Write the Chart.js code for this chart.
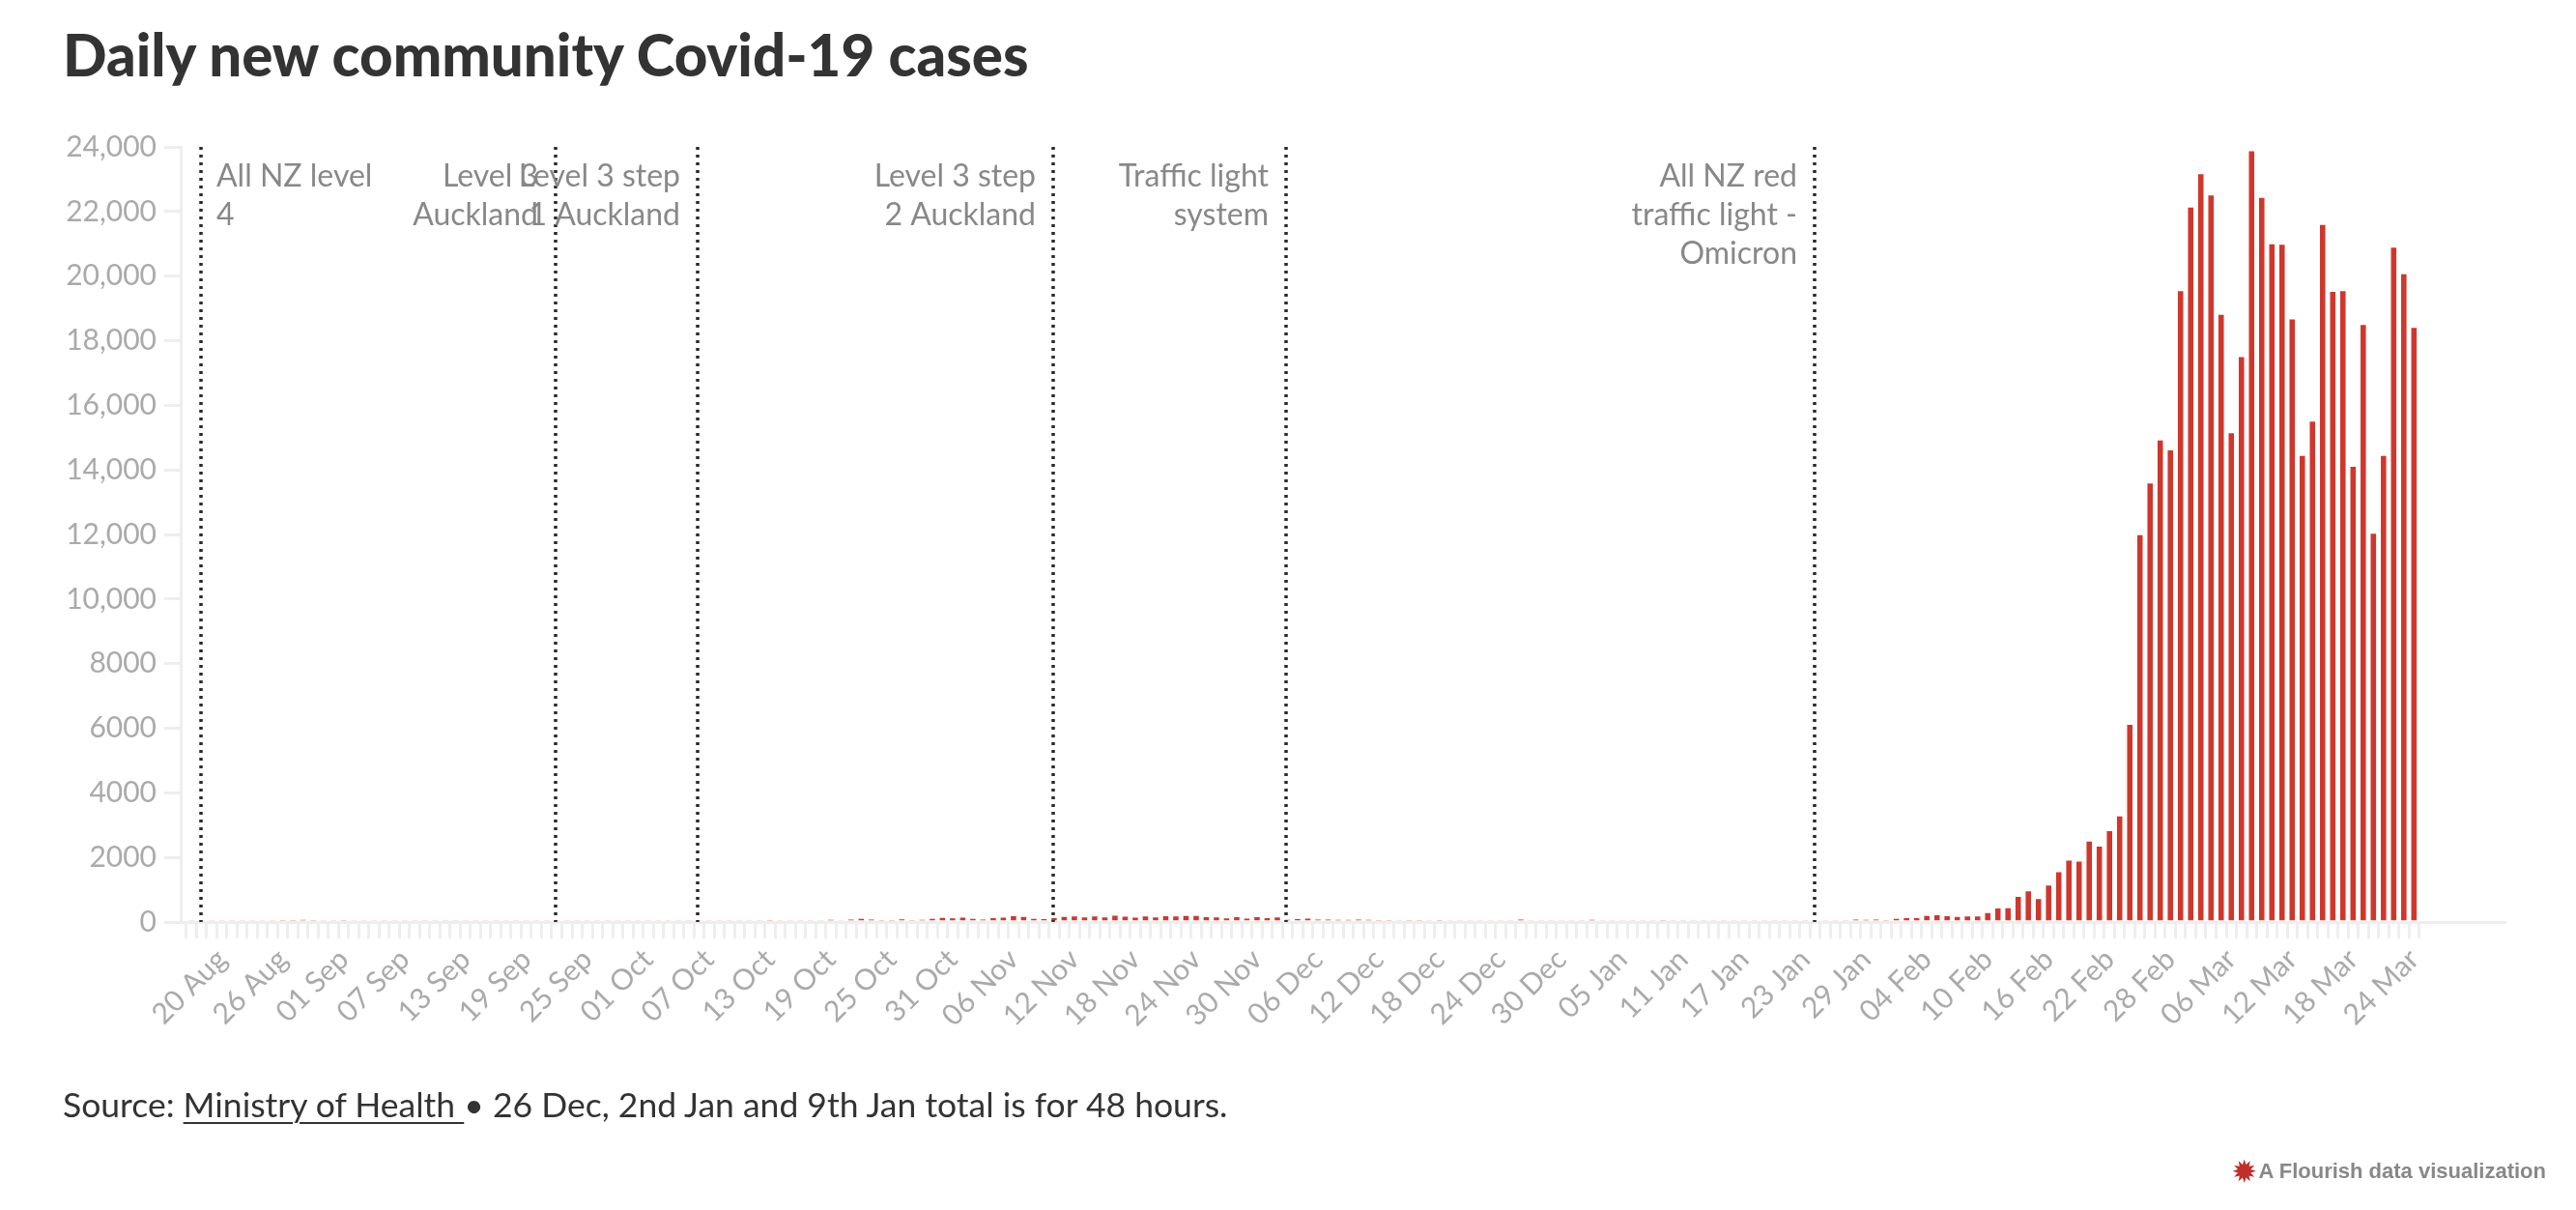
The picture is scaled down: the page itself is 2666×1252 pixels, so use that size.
<!doctype html>
<html>
<head>
  <meta charset="utf-8" />
  <title>Daily new community Covid-19 cases</title>
  <style>
    body { margin: 0; background: #fff; font-family: Lato, 'Noto Sans', sans-serif; }
    #page { position: relative; width: 2666px; height: 1252px; overflow: hidden; }
    canvas { position: absolute; left: 0; top: 0; }
    h1 { position: absolute; left: 65px; top: 20px; margin: 0; font-size: 60px; line-height: normal; font-weight: 900; color: #333; white-space: nowrap; }
    .source { position: absolute; left: 65px; top: 1121px; font-size: 35.5px; line-height: normal; color: #333; white-space: nowrap; }
    .source u { text-decoration-thickness: 2px; text-underline-offset: 5px; }
    .credit { position: absolute; right: 31px; top: 1196px; font-family: 'Liberation Sans', Arial, sans-serif; font-weight: 700; font-size: 22px; color: #888; white-space: nowrap; }
    .credit span { color: #c0302a; font-size: 28px; vertical-align: -3px; margin-right: 4px; }
  </style>
  <script src="https://cdn.jsdelivr.net/npm/chart.js"></script>
</head>
<body>
  <div id="page">
    <canvas id="chart" width="2666" height="1252"></canvas>
    <h1>Daily new community Covid-19 cases</h1>
    <div class="source">Source: <u>Ministry of Health </u> • 26 Dec, 2nd Jan and 9th Jan total is for 48 hours.</div>
    <div class="credit"><span>✹</span>A Flourish data visualization</div>
  </div>
  <script>
    // daily community cases by report date, 17 Aug 2021 - 24 Mar 2022
    const aug = [1, 6, 11, 11, 20, 21, 35, 41, 62, 68, 70, 83, 82, 53, 49];
    const sep = [75, 28, 20, 21, 20, 20, 21, 15, 13, 11, 20, 23, 33, 15, 13, 11, 11, 20, 24, 22, 14, 15, 17, 9, 13, 18, 12, 8, 45, 19];
    const oct = [19, 27, 33, 29, 27, 39, 29, 44, 34, 60, 35, 55, 71, 55, 65, 43, 51, 60, 94, 65, 102, 129, 104, 80, 79, 109, 74, 89, 125, 160, 143];
    const nov = [162, 126, 100, 147, 163, 206, 190, 125, 117, 147, 185, 200, 175, 201, 173, 222, 194, 167, 200, 172, 207, 205, 215, 215, 178, 173, 143, 181, 135, 182];
    const dec = [149, 172, 92, 116, 135, 98, 101, 94, 86, 99, 88, 74, 81, 56, 80, 70, 59, 81, 47, 56, 45, 67, 66, 44, 0, 100, 15, 30, 30, 40, 30];
    const jan = [0, 90, 25, 20, 22, 18, 30, 0, 70, 15, 14, 23, 17, 14, 22, 25, 13, 22, 14, 35, 20, 40, 20, 25, 25, 25, 40, 100, 90, 100, 80];
    const feb = [130, 150, 150, 215, 243, 208, 188, 202, 204, 306, 446, 454, 810, 981, 744, 1160, 1573, 1929, 1901, 2522, 2365, 2846, 3297, 6137, 12011, 13606, 14941, 14633];
    const mar = [19566, 22152, 23183, 22527, 18833, 15161, 17522, 23894, 22454, 21015, 20998, 18690, 14463, 15525, 21616, 19542, 19566, 14128, 18514, 12052, 14463, 20907, 20087, 18423];
    const cases = [...aug, ...sep, ...oct, ...nov, ...dec, ...jan, ...feb, ...mar];

    const monthNames = ['Jan', 'Feb', 'Mar', 'Apr', 'May', 'Jun', 'Jul', 'Aug', 'Sep', 'Oct', 'Nov', 'Dec'];
    const dates = cases.map((_, i) => {
      const d = new Date(2021, 7, 17 + i);
      return String(d.getDate()).padStart(2, '0') + ' ' + monthNames[d.getMonth()];
    });

    // alert level changes (drawn on the first day of the new setting)
    const markerDates = ['18 Aug', '22 Sep', '06 Oct', '10 Nov', '03 Dec', '24 Jan'];
    const markerText = [
      ['All NZ level', '4'],
      ['Level 3', 'Auckland'],
      ['Level 3 step', '1 Auckland'],
      ['Level 3 step', '2 Auckland'],
      ['Traffic light', 'system'],
      ['All NZ red', 'traffic light -', 'Omicron'],
    ];
    const markerSide = ['right', 'left', 'left', 'left', 'left', 'left'];

    const yTicks = [0, 2000, 4000, 6000, 8000, 10000, 12000, 14000, 16000, 18000, 20000, 22000, 24000];

    const markers = {
      id: 'markers',
      afterDatasetsDraw(chart) {
        const { ctx, chartArea, scales } = chart;
        ctx.save();
        markerDates.forEach((label, k) => {
          const x = Math.round(scales.x.getPixelForValue(dates.indexOf(label))) - 1;
          ctx.beginPath();
          ctx.setLineDash([3, 5]);
          ctx.lineWidth = 3.5;
          ctx.strokeStyle = '#2a2a2a';
          ctx.moveTo(x, chartArea.top);
          ctx.lineTo(x, chartArea.bottom);
          ctx.stroke();
          ctx.font = '32px Lato';
          ctx.fillStyle = '#888';
          ctx.textBaseline = 'alphabetic';
          const right = markerSide[k] === 'right';
          ctx.textAlign = right ? 'left' : 'right';
          markerText[k].forEach((line, j) => {
            ctx.fillText(line, right ? x + 16 : x - 18, chartArea.top + 41 + j * 40);
          });
        });
        ctx.restore();
      }
    };

    new Chart(document.getElementById('chart'), {
      type: 'bar',
      data: {
        datasets: [{
          data: cases.map((v, i) => ({ x: i, y: v })),
          backgroundColor: '#cf372d',
          borderColor: 'rgba(255,255,255,0.25)',
          borderWidth: { top: 1, left: 1, right: 1, bottom: 0 },
          minBarLength: 2,
          barPercentage: 0.72,
          categoryPercentage: 1,
        }]
      },
      options: {
        responsive: false,
        devicePixelRatio: 1,
        animation: false,
        layout: { padding: { left: 0, top: 152, right: 74, bottom: 0 } },
        plugins: { legend: { display: false }, tooltip: { enabled: false } },
        scales: {
          x: {
            type: 'linear',
            min: -0.54,
            max: 227.4,
            afterBuildTicks: (scale) => { scale.ticks = dates.map((_, i) => ({ value: i })); },
            afterFit: (scale) => { scale.height = 298; },
            grid: { drawOnChartArea: false, drawTicks: true, tickLength: 17, color: '#eeeeee', lineWidth: 3 },
            border: { display: true, color: '#eeeeee', width: 3 },
            ticks: {
              autoSkip: false,
              maxRotation: 45,
              minRotation: 45,
              padding: 4,
              color: '#aaaaaa',
              font: { family: 'Lato', size: 30 },
              callback: (value) => ((value - 3) % 6 === 0 ? dates[value] : ''),
            },
          },
          y: {
            min: 0,
            max: 24000,
            afterBuildTicks: (scale) => { scale.ticks = yTicks.map((v) => ({ value: v })); },
            afterFit: (scale) => { scale.width = 187; },
            grid: { drawOnChartArea: false, drawTicks: true, tickLength: 17, color: '#eeeeee', lineWidth: 3 },
            border: { display: true, color: '#eeeeee', width: 3 },
            ticks: {
              padding: 8,
              color: '#aaaaaa',
              font: { family: 'Lato', size: 30 },
              callback: (v) => (v >= 10000 ? v.toLocaleString('en-US') : String(v)),
            },
          },
        },
      },
      plugins: [markers],
    });
  </script>
</body>
</html>
